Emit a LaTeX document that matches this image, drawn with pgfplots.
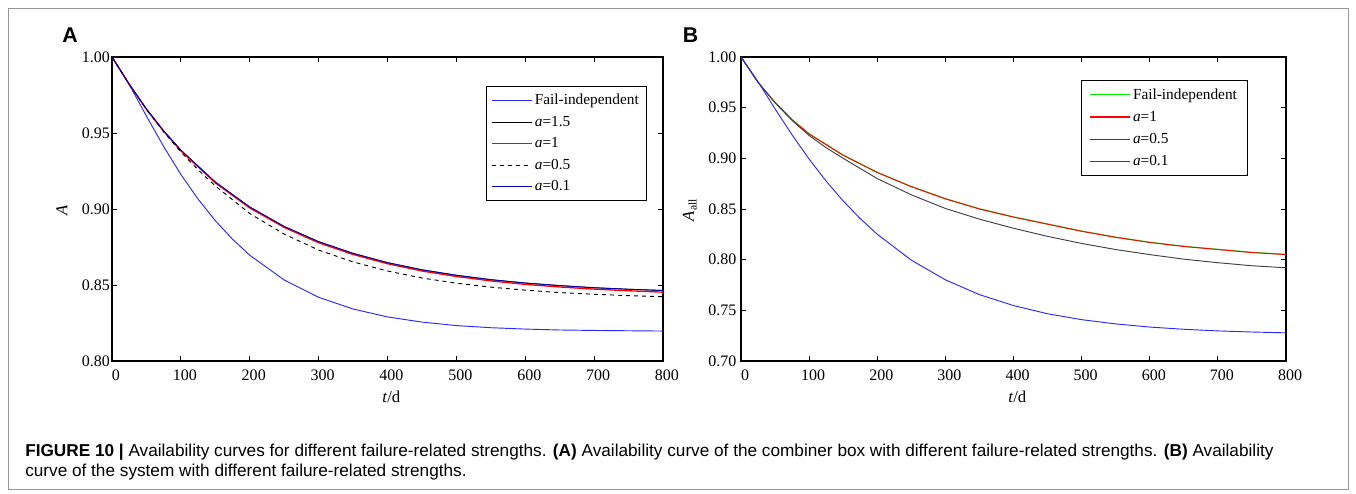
\documentclass[border=0pt]{standalone}
\usepackage{fontspec}
\setmainfont{Liberation Serif}
\newfontfamily\capfont{Liberation Sans}
\usepackage{pgfplots}
\pgfplotsset{compat=1.18}

\definecolor{fiblue}{RGB}{40,40,255}
\definecolor{dkblue}{RGB}{0,0,190}
\definecolor{ired}{RGB}{255,0,0}
\definecolor{igreen}{RGB}{0,230,0}
\definecolor{bordergray}{RGB}{150,150,150}

\pgfplotsset{
  panel/.style={
    scale only axis,
    height=228pt,
    xmin=0, xmax=800,
    xtick={0,100,...,800},
    tick align=inside,
    major tick length=4pt,
    axis line style={line width=1pt},
    every tick/.style={black, line width=0.7pt},
    tick label style={font=\fontsize{12}{14}\selectfont},
    /pgf/number format/assume math mode=true,
    yticklabel style={/pgf/number format/fixed, /pgf/number format/fixed zerofill, /pgf/number format/precision=2},
    xticklabel style={yshift=-3pt, xshift=3pt},
    xlabel={\textit{t}/d},
    every axis x label/.style={at={(axis description cs:0.507,-0.118)}, anchor=center, font=\fontsize{12.5}{14}\selectfont},
    legend cell align=left,
    legend style={font=\fontsize{11.5}{13.5}\selectfont, fill=white,
      inner ysep=4pt, row sep=3pt},
  }
}

\begin{document}
\begin{tikzpicture}
\path (0,0) rectangle (1017pt,369.75pt);
\draw[bordergray, line width=0.6pt] (6pt,3pt) rectangle (1011pt,363.75pt);
\node[font=\capfont\bfseries\fontsize{16}{18}\selectfont] at (52.5pt,343.5pt) {A};
\node[font=\capfont\bfseries\fontsize{16}{18}\selectfont] at (518pt,343.5pt) {B};

% ---------------- Panel A ----------------
\begin{axis}[panel,
  at={(84pt,99pt)}, anchor=south west,
  width=413.25pt,
  ymin=0.80, ymax=1.00,
  ytick={0.80,0.85,0.90,0.95,1.00},
  yticklabel shift=-2pt,
  ylabel={\textit{A}},
  every axis y label/.style={at={(axis description cs:-0.091,0.497)}, rotate=90, anchor=center, font=\fontsize{12.5}{14}\selectfont},
  legend image code/.code={\draw[#1, line width=0.9pt] (0cm,0cm) -- (1.05cm,0cm);},
  legend style={at={(0.971,0.905)}, anchor=north east, inner xsep=4pt},
]
% Fail-independent (lower curve)
\addplot[fiblue, line width=0.7pt] coordinates {
(0,1.0000) (25,0.9819) (50,0.9611) (75,0.9411) (100,0.9227) (125,0.9065)
(150,0.8923) (175,0.8801) (200,0.8696) (250,0.8533) (300,0.8419) (350,0.8342)
(400,0.8290) (450,0.8256) (500,0.8233) (550,0.8219) (600,0.8210) (650,0.8204)
(700,0.8201) (750,0.8199) (800,0.8197)};
\addlegendentry{Fail-independent}
% a=1.5
\addplot[black, line width=0.7pt] coordinates {
(0,1.0000) (25,0.9821) (50,0.9658) (75,0.9514) (100,0.9387) (150,0.9177)
(200,0.9013) (250,0.8885) (300,0.8785) (350,0.8708) (400,0.8647) (450,0.8600)
(500,0.8564) (550,0.8535) (600,0.8513) (650,0.8496) (700,0.8482) (750,0.8472)
(800,0.8464)};
\addlegendentry{\textit{a}=1.5}
% a=1
\addplot[ired, line width=1pt] coordinates {
(0,1.0000) (25,0.9820) (50,0.9656) (75,0.9511) (100,0.9383) (150,0.9172)
(200,0.9007) (250,0.8879) (300,0.8778) (350,0.8701) (400,0.8640) (450,0.8592)
(500,0.8556) (550,0.8527) (600,0.8504) (650,0.8487) (700,0.8473) (750,0.8462)
(800,0.8453)};
\addlegendentry{\textit{a}=1}
% a=0.5
\addplot[black, dashed, line width=0.7pt] coordinates {
(0,1.0000) (25,0.9820) (50,0.9655) (75,0.9508) (100,0.9375) (125,0.9258) (150,0.9152)
(200,0.8970) (250,0.8835) (300,0.8730) (350,0.8652) (400,0.8592) (450,0.8546)
(500,0.8512) (550,0.8486) (600,0.8466) (650,0.8450) (700,0.8439) (750,0.8430)
(800,0.8423)};
\addlegendentry{\textit{a}=0.5}
% a=0.1
\addplot[dkblue, line width=0.6pt] coordinates {
(0,1.0000) (25,0.9821) (50,0.9658) (75,0.9514) (100,0.9387) (150,0.9177)
(200,0.9013) (250,0.8885) (300,0.8785) (350,0.8708) (400,0.8647) (450,0.8600)
(500,0.8564) (550,0.8535) (600,0.8513) (650,0.8496) (700,0.8482) (750,0.8472)
(800,0.8464)};
\addlegendentry{\textit{a}=0.1}
\end{axis}

% ---------------- Panel B ----------------
\begin{axis}[panel,
  at={(555.75pt,99pt)}, anchor=south west,
  width=408.75pt,
  ymin=0.70, ymax=1.00,
  ytick={0.70,0.75,0.80,0.85,0.90,0.95,1.00},
  ylabel={\textit{A}\textsubscript{all}},
  every axis y label/.style={at={(axis description cs:-0.094,0.497)}, rotate=90, anchor=center, font=\fontsize{12.5}{14}\selectfont},
  legend image code/.code={\draw[#1, line width=0.9pt] (0cm,0cm) -- (1.05cm,0cm);},
  legend style={at={(0.930,0.924)}, anchor=north east, inner xsep=6pt, row sep=3.5pt},
]
\addplot[igreen, line width=0.8pt] coordinates {
(0,1.0000) (25,0.9750) (50,0.9552) (75,0.9382) (100,0.9242) (150,0.9032)
(200,0.8862) (250,0.8722) (300,0.8602) (350,0.8502) (400,0.8422) (450,0.8352)
(500,0.8282) (550,0.8222) (600,0.8172) (650,0.8132) (700,0.8102) (750,0.8072)
(800,0.8052)};
\addlegendentry{Fail-independent}
\addplot[ired, line width=0.7pt] coordinates {
(0,1.0000) (25,0.9750) (50,0.9550) (75,0.9380) (100,0.9240) (150,0.9030)
(200,0.8860) (250,0.8720) (300,0.8600) (350,0.8500) (400,0.8420) (450,0.8350)
(500,0.8280) (550,0.8220) (600,0.8170) (650,0.8130) (700,0.8100) (750,0.8070)
(800,0.8050)};
\addlegendentry{\textit{a}=1}
\addplot[black!75, line width=0.7pt] coordinates {
(0,1.0000) (25,0.9750) (50,0.9548) (75,0.9374) (100,0.9225) (125,0.9105) (150,0.9000)
(200,0.8800) (250,0.8640) (300,0.8505) (350,0.8400) (400,0.8310) (450,0.8230)
(500,0.8160) (550,0.8100) (600,0.8050) (650,0.8005) (700,0.7970) (750,0.7940)
(800,0.7920)};
\addlegendentry{\textit{a}=0.5}
\addplot[fiblue, line width=0.7pt] coordinates {
(0,1.0000) (25,0.9756) (50,0.9488) (75,0.9231) (100,0.8992) (125,0.8775)
(150,0.8579) (175,0.8405) (200,0.8251) (250,0.7995) (300,0.7801) (350,0.7655)
(400,0.7547) (450,0.7466) (500,0.7408) (550,0.7366) (600,0.7335) (650,0.7313)
(700,0.7297) (750,0.7286) (800,0.7278)};
\addlegendentry{\textit{a}=0.1}
\end{axis}

% caption
\node[anchor=base west, font=\capfont\fontsize{12.9}{14}\selectfont, inner sep=0pt] at (18.75pt,27.75pt)
  {\textbf{FIGURE 10 |} Availability curves for different failure-related strengths. \textbf{(A)} Availability curve of the combiner box with different failure-related strengths. \textbf{(B)} Availability};
\node[anchor=base west, font=\capfont\fontsize{12.9}{14}\selectfont, inner sep=0pt] at (18.75pt,12.25pt)
  {curve of the system with different failure-related strengths.};
\end{tikzpicture}
\end{document}
